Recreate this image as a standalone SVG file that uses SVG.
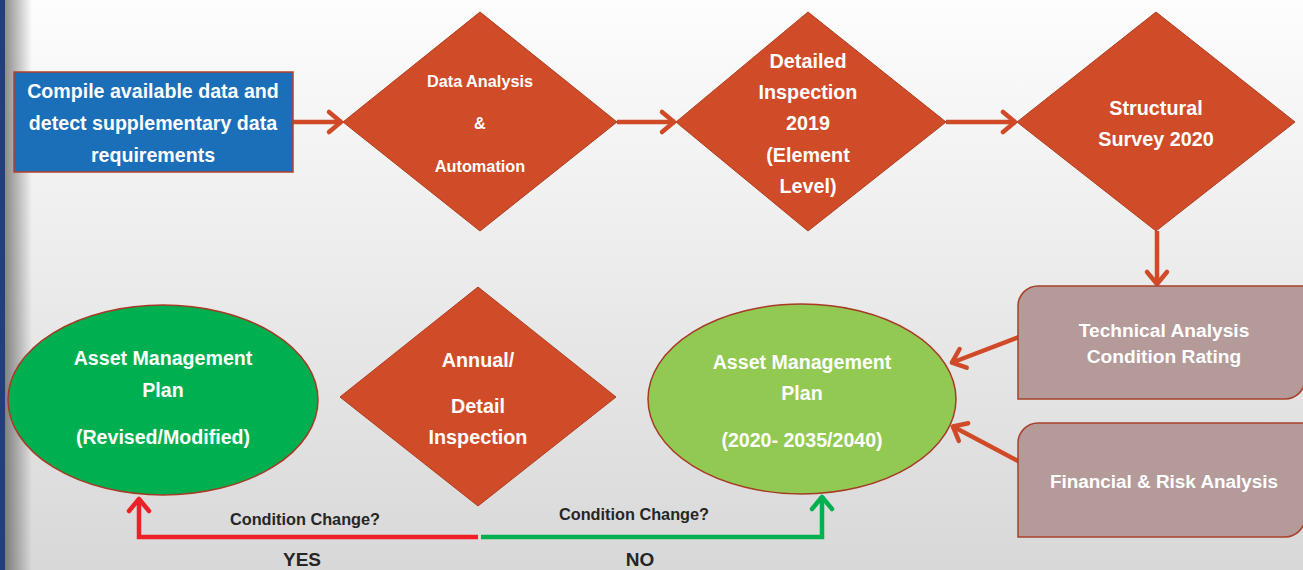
<svg xmlns="http://www.w3.org/2000/svg" width="1303" height="570" viewBox="0 0 1303 570">
<defs>
<linearGradient id="bg" x1="0" y1="0" x2="0" y2="1">
<stop offset="0" stop-color="#fdfdfd"/>
<stop offset="1" stop-color="#d8d8d8"/>
</linearGradient>
<linearGradient id="edge" x1="0" y1="0" x2="1" y2="0">
<stop offset="0" stop-color="#000" stop-opacity="0.45"/>
<stop offset="1" stop-color="#000" stop-opacity="0"/>
</linearGradient>
<marker id="ao" markerUnits="userSpaceOnUse" orient="auto" overflow="visible" refX="0" refY="0" markerWidth="30" markerHeight="30">
<path d="M-13,-10 L-1,0 L-13,10" fill="none" stroke="#d04a27" stroke-width="4.5" stroke-linecap="round" stroke-linejoin="round"/>
</marker>
<marker id="ar" markerUnits="userSpaceOnUse" orient="auto" overflow="visible" refX="0" refY="0" markerWidth="30" markerHeight="30">
<path d="M-13,-10 L-1,0 L-13,10" fill="none" stroke="#ee2027" stroke-width="4.5" stroke-linecap="round" stroke-linejoin="round"/>
</marker>
<marker id="ag" markerUnits="userSpaceOnUse" orient="auto" overflow="visible" refX="0" refY="0" markerWidth="30" markerHeight="30">
<path d="M-13,-10 L-1,0 L-13,10" fill="none" stroke="#00b050" stroke-width="4.5" stroke-linecap="round" stroke-linejoin="round"/>
</marker>
</defs>
<style>
text{font-family:"Liberation Sans",Arial,sans-serif;font-weight:bold;text-anchor:middle}
.w{fill:#ffffff}
.d{fill:#262626}
.dia{fill:#d04b27;stroke:#b03d1f;stroke-width:1}
.box{fill:#b59a9a;stroke:#a9402a;stroke-width:1.5}
.ell{stroke:#a83a25;stroke-width:1.5}
.ln{fill:none;stroke-width:4.5}
</style>
<rect x="0" y="0" width="1303" height="570" fill="url(#bg)"/>
<rect x="4" y="0" width="28" height="570" fill="url(#edge)"/>
<rect x="0" y="0" width="5" height="570" fill="#223f7c"/>

<g id="connectors">
<line class="ln" stroke="#d04a27" x1="293" y1="122" x2="342" y2="122" marker-end="url(#ao)"/>
<line class="ln" stroke="#d04a27" x1="617" y1="122" x2="675" y2="122" marker-end="url(#ao)"/>
<line class="ln" stroke="#d04a27" x1="946" y1="122" x2="1016" y2="122" marker-end="url(#ao)"/>
<line class="ln" stroke="#d04a27" x1="1157" y1="231" x2="1157" y2="285" marker-end="url(#ao)"/>
<line class="ln" stroke="#d04a27" x1="1019" y1="337" x2="951" y2="363" marker-end="url(#ao)"/>
<line class="ln" stroke="#d04a27" x1="1020" y1="462" x2="952" y2="426" marker-end="url(#ao)"/>
<polyline class="ln" stroke="#ee2027" points="478,537 139,537 139,498" marker-end="url(#ar)"/>
<polyline class="ln" stroke="#00b050" points="481,537 822,537 822,496" marker-end="url(#ag)"/>
<text class="d" x="305" y="525" font-size="16.3">Condition Change?</text>
<text class="d" x="634" y="520" font-size="16.3">Condition Change?</text>
<text class="d" x="302" y="566" font-size="19">YES</text>
<text class="d" x="640" y="566" font-size="19">NO</text>
</g>

<g id="compile">
<rect x="14" y="72" width="279" height="100" fill="#1b6eb8" stroke="#b5402a" stroke-width="1.5"/>
<text class="w" x="153" y="98" font-size="19.6">Compile available data and</text>
<text class="w" x="153" y="130" font-size="19.6">detect supplementary data</text>
<text class="w" x="153" y="162" font-size="19.6">requirements</text>
</g>

<g id="data-analysis">
<polygon class="dia" points="480,12 617,122 480,231 343,122"/>
<text class="w" x="480" y="87" font-size="16.3">Data Analysis</text>
<text class="w" x="480" y="129" font-size="16.3">&amp;</text>
<text class="w" x="480" y="172" font-size="16.3">Automation</text>
</g>

<g id="detailed-inspection">
<polygon class="dia" points="808,12 946,122 808,231 676,122"/>
<text class="w" x="808" y="68" font-size="19.8">Detailed</text>
<text class="w" x="808" y="99" font-size="19.8">Inspection</text>
<text class="w" x="808" y="130" font-size="19.8">2019</text>
<text class="w" x="808" y="162" font-size="19.8">(Element</text>
<text class="w" x="808" y="193" font-size="19.8">Level)</text>
</g>

<g id="structural-survey">
<polygon class="dia" points="1156,12 1295,122 1156,231 1017,122"/>
<text class="w" x="1156" y="115" font-size="19.8">Structural</text>
<text class="w" x="1156" y="146" font-size="19.8">Survey 2020</text>
</g>

<g id="technical-analysis">
<path class="box" d="M1018,399 V306 A20,20 0 0 1 1038,286 H1305 V379 A20,20 0 0 1 1285,399 Z"/>
<text class="w" x="1164" y="337" font-size="19.2">Technical Analysis</text>
<text class="w" x="1164" y="363" font-size="19.2">Condition Rating</text>
</g>

<g id="financial-risk">
<path class="box" d="M1018,537 V443 A20,20 0 0 1 1038,423 H1305 V517 A20,20 0 0 1 1285,537 Z"/>
<text class="w" x="1164" y="488" font-size="18.9">Financial &amp; Risk Analysis</text>
</g>

<g id="amp-current">
<ellipse class="ell" cx="802" cy="399" rx="154" ry="95" fill="#92c952"/>
<text class="w" x="802" y="369" font-size="19.6">Asset Management</text>
<text class="w" x="802" y="400" font-size="19.6">Plan</text>
<text class="w" x="802" y="447" font-size="19.6">(2020- 2035/2040)</text>
</g>

<g id="annual-inspection">
<polygon class="dia" points="478,287 616,397 478,506 340,397"/>
<text class="w" x="478" y="367" font-size="19.8">Annual/</text>
<text class="w" x="478" y="413" font-size="19.8">Detail</text>
<text class="w" x="478" y="444" font-size="19.8">Inspection</text>
</g>

<g id="amp-revised">
<ellipse class="ell" cx="163" cy="400" rx="155" ry="95" fill="#00b050"/>
<text class="w" x="163" y="365" font-size="19.6">Asset Management</text>
<text class="w" x="163" y="397" font-size="19.6">Plan</text>
<text class="w" x="163" y="444" font-size="19.6">(Revised/Modified)</text>
</g>
</svg>
